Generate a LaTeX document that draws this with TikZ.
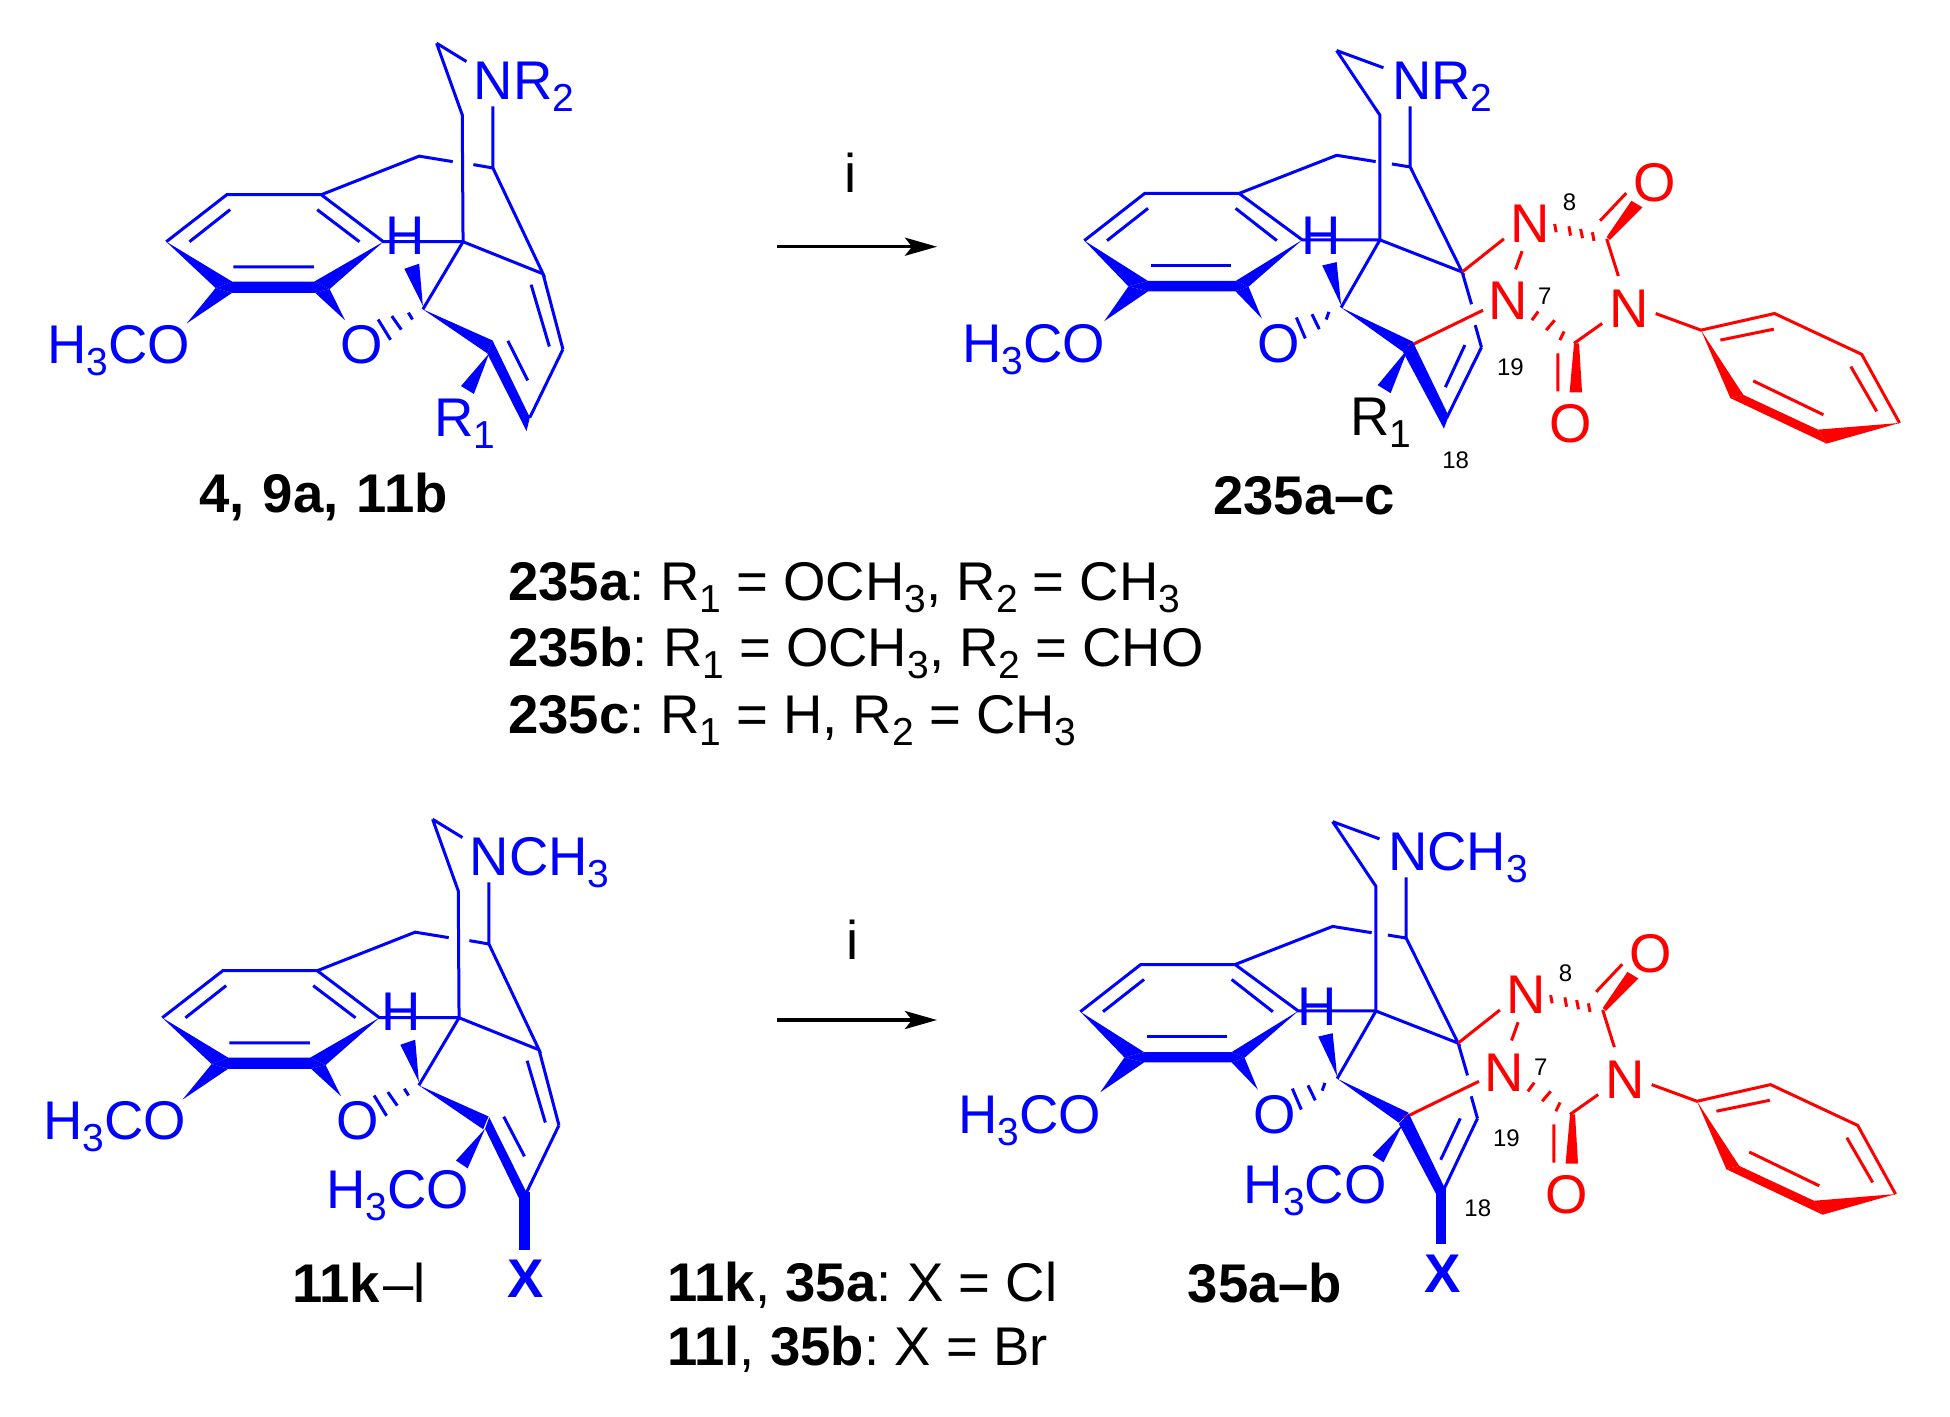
\documentclass[tikz,border=0pt]{standalone}
\usepackage{fontspec}
\setmainfont{Liberation Sans}
\usetikzlibrary{arrows.meta}
\definecolor{molBlue}{HTML}{0000FF}
\definecolor{molRed}{HTML}{FF0000}
\newcommand{\molfont}{\fontsize{54.5}{60}\selectfont}
\newcommand{\lowx}[1]{\raisebox{-12pt}{\fontsize{39}{39}\selectfont #1}}
\tikzset{
  bondB/.style={draw=molBlue, line width=3pt},
  bondR/.style={draw=molRed, line width=3pt},
  wedgeB/.style={fill=molBlue},
  wedgeR/.style={fill=molRed},
  atomB/.style={font=\molfont, text=molBlue, inner sep=0pt, anchor=base west},
  atomR/.style={font=\molfont, text=molRed, inner sep=0pt, anchor=base},
  atomK/.style={font=\molfont, text=black, inner sep=0pt, anchor=base west},
  molName/.style={font=\molfont, text=black, inner sep=0pt, anchor=base west},
  numTag/.style={font=\fontsize{24}{28}\selectfont, text=black, inner sep=0pt},
  flow/.style={-{Stealth[length=32pt, width=18pt, inset=7pt]}, line width=3.5pt}
}
% tetracyclic part of the left molecules
\newcommand{\leftcore}[1]{
  \node[atomB] (amine) at (476,99.7) {#1};
  \node[atomB] (meoa) at (47.5,365.6) {H\lowx{3}CO};
  \node[atomB] (oxy) at (342,365.6) {O};
  \node[atomB, anchor=base] (hyd) at (407.5,255.8) {H};
  \coordinate (ca) at (438.8,43.5);
  \coordinate (cb) at (464.6,115.6);
  \coordinate (cc) at (465.4,243.2);
  \coordinate (cd) at (495.4,169);
  \coordinate (ce) at (421.3,157.1);
  \coordinate (r1) at (322.9,195.9);
  \coordinate (r2) at (227.9,195.9);
  \coordinate (r3) at (167.1,243.2);
  \coordinate (r6) at (385.4,243.2);
  \coordinate (cf) at (425,311.2);
  \coordinate (cg) at (545.8,275.5);
  \coordinate (ch) at (565.8,351.4);
  \draw[bondB] (ca) -- (468.8,61.9) (ca) -- (cb) -- (cc) -- (r6) -- (r1) -- (r2) -- (r3);
  \draw[bondB] (495.4,107.1) -- (cd) -- (475.8,165.6) (455,162.6) -- (ce) -- (r1);
  \draw[bondB] (cd) -- (cg) -- (cc) -- (cf) (cg) -- (ch);
  \draw[bondB] (231.3,210.9) -- (190.4,243.2) (318.8,210.9) -- (361.3,243.2);
  \draw[bondB] (234.6,268.4) -- (315.4,268.4) (533.8,286.4) -- (552.1,348.6);
  \draw[bondB] (410.4,314.6) -- (414.6,321.4) (393.8,318) -- (403.3,331.6) (380,321.4) -- (392.5,341.8);
  \fill[wedgeB] (r3) -- (233.3,283.3) -- (216.7,289.8) -- cycle;
  \fill[wedgeB] (r6) -- (315.8,283.3) -- (331.3,290.8) -- cycle;
  \fill[wedgeB] (216.7,289.8) -- (233.3,283.3) -- (315.8,283.3) -- (331.3,290.8) -- (316.7,294.6) -- (233.3,294.6) -- cycle;
  \fill[wedgeB] (187.5,325.5) -- (216.7,289.8) -- (233.3,294.6) -- cycle;
  \fill[wedgeB] (346.7,322.1) -- (316.7,294.6) -- (331.3,290.8) -- cycle;
  \fill[wedgeB] (425,307.8) -- (406.3,270.4) -- (421.3,265.3) -- cycle;
  \fill[wedgeB] (cf) -- (495,342.5) -- (489.6,355.4) -- cycle;
}
% tetracyclic part with the red urazole ring and phenyl
\newcommand{\rightcore}[1]{
  \node[atomB] (amine) at (1394,99.5) {#1};
  \node[atomB] (meoa) at (962,364) {H\lowx{3}CO};
  \node[atomB] (oxy) at (1259,364) {O};
  \node[atomB, anchor=base] (hyd) at (1323,256) {H};
  \node[atomR] (neight) at (1532.6,243.5) {N};
  \node[atomR] (nseven) at (1510.4,321.5) {N};
  \node[atomR] (nph) at (1632.6,329) {N};
  \node[atomR] (otop) at (1657.5,202) {O};
  \node[atomR] (obot) at (1573.8,444.7) {O};
  \node[numTag] (tageight) at (1572.5,203) {8};
  \node[numTag] (tagseven) at (1547.7,297.5) {7};
  \node[numTag] (tagnineteen) at (1513,368.5) {19};
  \coordinate (ca) at (1338.5,50.7);
  \coordinate (cb) at (1382,115.7);
  \coordinate (cc) at (1382,241);
  \coordinate (cd) at (1412.4,167.7);
  \coordinate (ce) at (1338.5,156);
  \coordinate (r1) at (1240.5,194.3);
  \coordinate (r2) at (1145.7,194.3);
  \coordinate (r3) at (1085,241.7);
  \coordinate (r6) at (1304,241);
  \coordinate (cf) at (1343,309);
  \coordinate (cg) at (1464.6,273.3);
  \coordinate (ch) at (1484,349);
  \coordinate (cj) at (1410.4,348.3);
  \coordinate (ck) at (1609.8,240);
  \coordinate (cm) at (1577,345);
  \coordinate (p1) at (1704.5,331.7);
  \coordinate (p2) at (1778.4,315);
  \coordinate (p3) at (1866,356);
  \coordinate (p4) at (1904,425);
  \draw[bondB] (ca) -- (1385.5,68) (ca) -- (cb) -- (cc) -- (r6) -- (r1) -- (r2) -- (r3);
  \draw[bondB] (1412.4,106.7) -- (cd) -- (1394,164.7) (1377.7,162.3) -- (ce) -- (r1);
  \draw[bondB] (cd) -- (cg) -- (cc) -- (cf) (cg) -- (1474,305.7) (1477.7,326.7) -- (ch);
  \draw[bondB] (1149,209.3) -- (1107.8,241.7) (1237,209.3) -- (1278.4,241.7);
  \draw[bondB] (1152,266.7) -- (1232.6,266.7);
  \draw[bondB] (1330.7,313.3) -- (1328,321) (1313.7,315.7) -- (1321,330.7) (1298,319) -- (1307,340);
  \fill[wedgeB] (r3) -- (1149,282.3) -- (1129.3,287.7) -- cycle;
  \fill[wedgeB] (r6) -- (1237,282.3) -- (1250,288) -- cycle;
  \fill[wedgeB] (1129.3,287.7) -- (1149,282.3) -- (1237,282.3) -- (1250,288) -- (1237,292.7) -- (1149,292.7) -- cycle;
  \fill[wedgeB] (1105,322.7) -- (1129.3,287.7) -- (1149,292.7) -- cycle;
  \fill[wedgeB] (1263.3,320) -- (1237,292.7) -- (1250,288) -- cycle;
  \fill[wedgeB] (1343,306.7) -- (1324,266.7) -- (1338.5,263.3) -- cycle;
  \fill[wedgeB] (cf) -- (1415,343.3) -- (1405,353.3) -- cycle;
  \draw[bondR] (cg) -- (1506.5,240) (cj) -- (1485.5,311.7);
  \draw[bondR] (1524.8,252.3) -- (1518.2,270.7);
  \draw[bondR] (ck) -- (1621.5,277.3) (1605.2,325) -- (cm);
  \draw[bondR] (1603.2,221.7) -- (1629.4,194) (1560.7,355) -- (1560.7,393.3);
  \draw[bondR] (1557.5,225) -- (1559,233.3) (1571.8,227.3) -- (1573.5,236.7) (1583.6,230) -- (1585.5,239.3) (1595.4,233.3) -- (1597,242);
  \draw[bondR] (1541,313) -- (1534.6,321.7) (1557.5,321.7) -- (1549,331.7) (1567,333) -- (1562.7,341.7);
  \draw[bondR] (1659,315) -- (p1) -- (p2) -- (p3) -- (p4);
  \draw[bondR] (1724,341.7) -- (1777.7,330.7) (1855,368.3) -- (1881,413.3) (1757,382.7) -- (1827.4,416.7);
  \fill[wedgeR] (1609.8,238) -- (1634.6,201.7) -- (1645.7,208.3) -- (1613,241) -- cycle;
  \fill[wedgeR] (cm) -- (1582,345) -- (1585,394.3) -- (1572.5,394.3) -- cycle;
  \fill[wedgeR] (p1) -- (1747,396.7) -- (1734,400) -- cycle;
  \fill[wedgeR] (1747,396.7) -- (1822,431.7) -- (1830.7,445.7) -- (1734,400) -- cycle;
  \fill[wedgeR] (p4) -- (1822,431.7) -- (1830.7,445.7) -- cycle;
}
\begin{document}
\begin{tikzpicture}[x=1pt, y=-1pt]
  \fill[white] (0,0) rectangle (1950,1416);
  \useasboundingbox (0,0) rectangle (1950,1416);

  % upper left
  \begin{scope}[name prefix=ul-, xscale=.995, yscale=.994]
    \leftcore{NR\lowx{2}}
    \node[atomB] (rone) at (436,438.8) {R\lowx{1}};
    \coordinate (ci) at (529.2,433.7);
    \draw[bondB] (ch) -- (532.5,420) (510.4,342.9) -- (530.4,382.7);
    \fill[wedgeB] (495,342.5) -- (532.5,420) -- (ci) -- (489.6,355.4) -- cycle;
    \fill[wedgeB] (491.7,355.4) -- (463.3,388.4) -- (476.3,396.3) -- cycle;
  \end{scope}
  \node[molName] (namea) at (199,512.5) {\textbf{4,\hspace{3pt} 9a,\hspace{3pt} 11b}};

  % upper right
  \begin{scope}[name prefix=ur-, shift={(4.3,.1)}, xscale=.9954, yscale=.995]
    \rightcore{NR\lowx{2}}
    \node[atomK] (rone) at (1352,438) {R\lowx{1}};
    \node[numTag] (tageighteen) at (1458,462) {18};
    \coordinate (ci) at (1446.3,430.7);
    \draw[bondB] (ch) -- (1449,420) (1467.3,346.7) -- (1447.7,389);
    \fill[wedgeB] (1415,343.3) -- (1451,418) -- (ci) -- (1405,353.3) -- cycle;
    \fill[wedgeB] (1410.4,350) -- (1379.7,387) -- (1392.7,395) -- cycle;
  \end{scope}
  \node[molName] (nameb) at (1213,514) {\textbf{235a–c}};

  % arrows
  \coordinate (arra) at (777,246.7);
  \coordinate (arrb) at (937,246.7);
  \coordinate (arrc) at (777,1020);
  \coordinate (arrd) at (937,1020);
  \draw[flow] (arra) -- (arrb);
  \draw[flow] (arrc) -- (arrd);
  \node[molName, anchor=base] (stepa) at (851,192.5) {i};
  \node[molName, anchor=base] (stepb) at (853,959) {i};

  % substituents
  \node[molName] (lista) at (508,600) {\textbf{235a}:\hspace{15.5pt}R\lowx{1} = OCH\lowx{3}, R\lowx{2} = CH\lowx{3}};
  \node[molName] (listb) at (508,666) {\textbf{235b}:\hspace{15.5pt}R\lowx{1} = OCH\lowx{3}, R\lowx{2} = CHO};
  \node[molName] (listc) at (508,733) {\textbf{235c}:\hspace{15.5pt}R\lowx{1} = H, R\lowx{2} = CH\lowx{3}};

  % lower left
  \begin{scope}[name prefix=ll-, shift={(-4,776)}, xscale=.995, yscale=.994]
    \leftcore{NCH\lowx{3}}
  \end{scope}
  \begin{scope}[shift={(0,4)}, xscale=.995, yscale=.995]
    \node[atomB] (meob) at (328,1210.7) {H\lowx{3}CO};
    \node[atomB] (halla) at (510,1300) {\textbf{X}};
    \coordinate (lla) at (529.2,1194.5);
    \coordinate (llb) at (527,1194.5);
    \coordinate (llc) at (527,1252.2);
    \draw[bondB] (ll-ch) -- (lla) (506.3,1118.3) -- (527.1,1158.1);
    \draw[draw=molBlue, line width=10.8pt] (llb) -- (llc);
    \fill[wedgeB] (491.7,1119) -- (lla) -- (522.9,1203.1) -- (487.5,1130.4) -- cycle;
    \fill[wedgeB] (487.5,1130.4) -- (458.3,1162.3) -- (470,1170.2) -- cycle;
  \end{scope}
  \node[molName] (namec) at (292,1302) {\textbf{11k}\hspace{3pt}–l};

  % lower right
  \begin{scope}[name prefix=lr-, shift={(.3,771.2)}, xscale=.9954, yscale=.995]
    \rightcore{NCH\lowx{3}}
  \end{scope}
  \begin{scope}[shift={(4.3,4)}, xscale=.9954, yscale=.995]
    \node[atomB] (meoc) at (1245,1205.5) {H\lowx{3}CO};
    \node[atomB] (hallb) at (1426.7,1294.8) {\textbf{X}};
    \node[numTag] (tageighteen) at (1480.3,1210.5) {18};
    \coordinate (lrb) at (1443.2,1191);
    \coordinate (lrc) at (1443.2,1246.4);
    \draw[bondB] (lr-ch) -- (1446.3,1191) (1462.7,1120) -- (1443,1161.6);
    \draw[draw=molBlue, line width=10.3pt] (lrb) -- (lrc);
    \fill[wedgeB] (1411,1115.3) -- (1447.6,1191) -- (1439.8,1198.6) -- (1401,1125.3) -- cycle;
    \fill[wedgeB] (1405.2,1125.3) -- (1374.5,1157) -- (1385.6,1164) -- cycle;
  \end{scope}
  \node[molName] (named) at (1187.5,1302) {\textbf{35a–b}};

  \node[molName] (listd) at (667,1301.7) {\textbf{11k}, \textbf{35a}:\hspace{15.5pt}X = Cl};
  \node[molName] (liste) at (667,1365.7) {\textbf{11l}, \textbf{35b}:\hspace{15.5pt}X = Br};
\end{tikzpicture}
\end{document}
